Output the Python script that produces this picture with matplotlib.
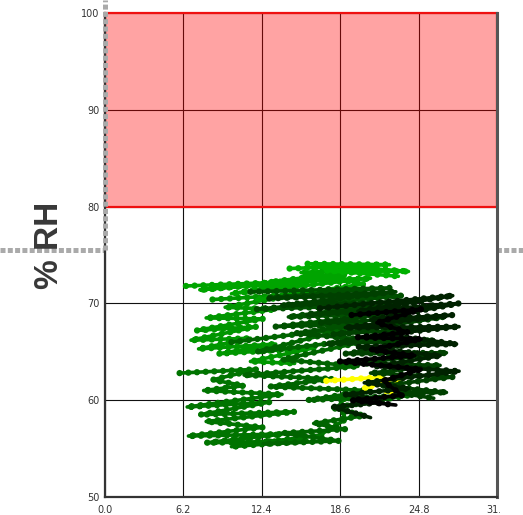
import matplotlib
matplotlib.use("Agg")
import matplotlib.pyplot as plt
from matplotlib.lines import Line2D
from matplotlib.transforms import Bbox

# axis setup
x_ticks = [0.0, 6.2, 12.4, 18.6, 24.8, 31.0]
x_labels = ["0.0", "6.2", "12.4", "18.6", "24.8", "31.0"]
y_ticks = [50, 60, 70, 80, 90, 100]
y_labels = ["50", "60", "70", "80", "90", "100"]
band_low, band_high = 80, 100

# temperature / humidity trails (deg, %RH)
trail_top = [(14.6, 73.6), (22.5, 74.0), (16, 74.1), (24.0, 73.3), (17.5, 73.4), (23.2, 72.8)]
trail_a = [(6.4, 71.8), (16, 72.3), (7.5, 71.4), (19, 72.9), (10, 71.0), (21.0, 72.6),
           (13, 72.2), (21.5, 73.6), (15.5, 73.2), (20.5, 72.0), (12, 70.4)]
trail_b = [(8.5, 70.4), (15, 70.9), (9.5, 69.6), (13.5, 69.4), (8, 68.5), (12.5, 68.4),
           (7.2, 67.2), (12.0, 67.6), (6.8, 66.2), (11.5, 66.4), (7.4, 65.3), (13.5, 65.8),
           (9, 64.8), (16.5, 65.4), (11.5, 64.0), (15, 63.8)]
trail_c = [(5.9, 62.8), (12, 63.2), (8.5, 62.1), (11, 61.5), (7.8, 61.0), (14, 60.6),
           (6.5, 59.3), (13, 59.8), (7.5, 58.5), (15, 58.8), (8, 57.8), (12.5, 57.2),
           (6.6, 56.3), (14, 56.5), (8, 55.6), (16, 55.8), (10, 55.2), (17, 56.4),
           (19, 58.0), (18.6, 60.0), (21, 61.0)]
trail_d = [(10, 66.0), (19.5, 67.5), (12, 65.0), (22, 66.5), (14, 64.2), (20, 63.5),
           (11, 62.6), (18, 62.2), (13, 61.4), (21, 61.0), (16, 60.0), (24, 60.5),
           (18, 59.2), (20.5, 58.4), (16.5, 57.6), (19, 57.0), (14, 56.6), (18.5, 55.8),
           (12.5, 55.5)]
trail_mid = [(11.5, 71.2), (22.5, 71.6), (13, 70.6), (23.5, 70.8), (12, 69.4), (21, 69.8),
             (14.5, 68.6), (22, 68.9), (13.5, 67.6), (20.5, 67.9), (15, 66.9), (23, 66.0)]
trail_y = [(17.5, 62.0), (22, 62.4), (20.5, 61.2), (23.5, 62.5), (22.2, 60.8), (24.2, 61.2)]
trail_e = [(13, 70.5), (23, 71.2), (14, 69.8), (24.5, 70.2), (16, 68.8), (25.5, 69.6),
           (17, 68.0), (26.8, 68.6), (18, 66.8), (25, 67.4), (17.5, 65.8), (26, 66.2),
           (19, 64.8), (27, 64.9), (20, 63.8), (26.5, 63.6), (21, 62.8), (27.5, 62.4),
           (22, 61.5), (27, 60.8), (23, 60.8), (26, 60.2)]
trail_f = [(17, 69.5), (27.5, 70.8), (20, 69.2), (28, 70.0), (21, 68.3), (27.5, 68.8),
           (19, 67.5), (28, 67.6), (22, 66.8), (27.8, 65.8), (20, 65.5), (26.5, 64.6),
           (21.5, 63.5), (28, 63.0), (20.5, 61.8), (24, 61.2), (19, 60.6), (22, 59.8),
           (18, 59.3), (21, 58.2)]
trail_g = [(19.5, 68.8), (25, 69.4), (21.5, 68.0), (24, 67.0), (20, 66.5), (25, 66.3),
           (21, 65.2), (24.5, 64.6), (18.5, 64.0), (25, 63.2), (22, 62.0), (23.5, 60.5),
           (19.5, 60.0), (23, 59.5)]

trails = [
    (trail_b, "#009600"),
    (trail_a, "#00a400"),
    (trail_top, "#00b000"),
    (trail_c, "#007400"),
    (trail_d, "#006400"),
    (trail_mid, "#005000"),
    (trail_y, "#ffff00"),
    (trail_e, "#004000"),
    (trail_f, "#002200"),
    (trail_g, "#000000"),
]

fig = plt.figure(figsize=(5.23, 5.15), dpi=100)
ax = fig.add_axes([105 / 523, 18 / 515, 392 / 523, 484 / 515])
ax.set_xlim(x_ticks[0], x_ticks[-1])
ax.set_ylim(y_ticks[0], y_ticks[-1])

ax.set_xticks(x_ticks, x_labels)
ax.set_yticks(y_ticks, y_labels)
ax.tick_params(axis="both", length=0, labelsize=7, colors="#333333")
ax.tick_params(axis="x", pad=5.5)
ax.tick_params(axis="y", pad=4)
ax.grid(True, color="#111111", linewidth=0.8, zorder=1)
ax.set_axisbelow(True)

for side in ["left", "bottom"]:
    ax.spines[side].set_color("#333333")
    ax.spines[side].set_linewidth(1.6)
ax.spines["right"].set_color("#555555")
ax.spines["right"].set_linewidth(2.2)
ax.spines["top"].set_visible(False)

# danger zone
ax.axhspan(band_low, band_high, facecolor=(1, 0, 0, 0.36), edgecolor="#ee1111",
           linewidth=1.6, zorder=2, clip_on=False)

for pts, col in trails:
    xs = [p[0] for p in pts]
    ys = [p[1] for p in pts]
    ax.plot(xs, ys, color=col, linewidth=2.6, solid_capstyle="round",
            solid_joinstyle="round", zorder=3)
    ax.plot(xs, ys, color=col, linewidth=4.6, linestyle=(0, (0.01, 1.35)),
            dash_capstyle="round", zorder=3)

# the last x label is cut at the right like the original
clip = Bbox([[0, 0], [500, 515]])
ax.get_xticklabels()[-1].set_clip_on(True)
ax.get_xticklabels()[-1].set_clip_box(clip)

fig.text(50 / 523, 1 - 245 / 515, "% RH", rotation=90, ha="center", va="center",
         fontsize=24, fontweight="bold", color="#383838", family="Liberation Sans")

# gray dotted guide lines
fig.add_artist(Line2D([0, 1], [1 - 250 / 515, 1 - 250 / 515], color="#aaaaaa",
                      linewidth=3.6, linestyle=(0, (1.0, 0.46)), zorder=-1))
fig.add_artist(Line2D([105 / 523, 105 / 523], [1 - 250 / 515, 1.0], color="#aaaaaa",
                      linewidth=3.6, linestyle=(0, (1.0, 0.46)), zorder=5))

fig.savefig("out.png", dpi=100)
